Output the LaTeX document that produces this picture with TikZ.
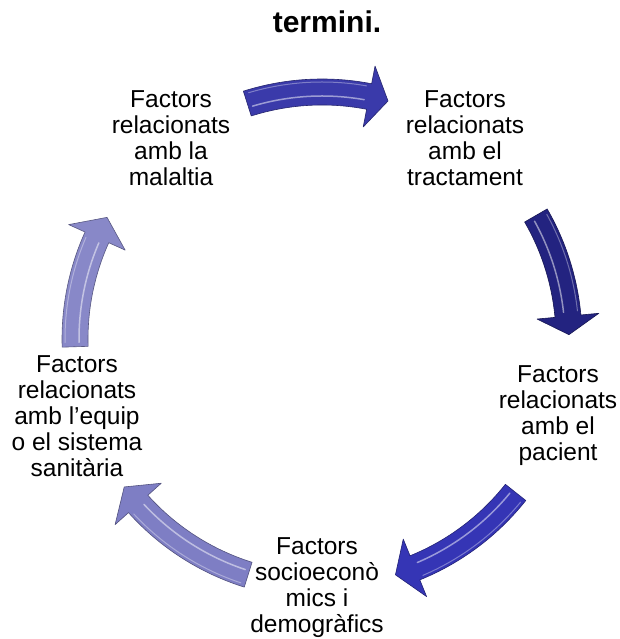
\documentclass[tikz,border=0pt]{standalone}
\usepackage{fontspec}
\setmainfont{Liberation Sans}
\definecolor{arrA}{HTML}{3A3AAA}
\definecolor{arrB}{HTML}{232380}
\definecolor{arrC}{HTML}{3535B5}
\definecolor{arrD}{HTML}{7E7EC4}
\definecolor{arrE}{HTML}{8888C8}
% #1 start angle, #2 head base angle, #3 tip angle, #4 colour
\newcommand\cycarrow[4]{%
  \filldraw[fill=#4, draw=#4!65!black, line width=0.6pt, line join=round]
    (#1:260pt) arc[start angle=#1, end angle=#2, radius=260pt]
    -- (#2:278pt) -- (#3:247pt) -- (#2:216pt) -- (#2:234pt)
    arc[start angle=#2, end angle=#1, radius=234pt] -- cycle;
  \draw[white, opacity=0.5, line width=1.5pt, line cap=round]
    ({#1-1}:243pt) arc[start angle={#1-1}, end angle={#2+1}, radius=243pt];
  \draw[white, opacity=0.35, line width=1pt, line cap=round]
    ({#1-1}:257pt) arc[start angle={#1-1}, end angle={#2+1}, radius=257pt];
}
\begin{document}
\begin{tikzpicture}[x=1pt,y=1pt,
  txt/.style={align=center, inner sep=0pt, font=\fontsize{24.5}{26}\selectfont}]
\useasboundingbox (0,0) rectangle (619,639);
\fill[white] (0,0) rectangle (619,639);
\node[anchor=base, inner sep=0pt, font=\fontsize{30}{34}\selectfont\bfseries] (title) at (327,606) {termini.};
\node[txt] (malaltia) at (171,497.7) {\strut Factors\\relacionats\\amb la\\malaltia\strut};
\node[txt] (tractament) at (465,497.7) {\strut Factors\\relacionats\\amb el\\tractament\strut};
\node[txt] (pacient) at (558,222.2) {\strut Factors\\relacionats\\amb el\\pacient\strut};
\node[txt] (socio) at (317,50.2) {\strut Factors\\socioeconò\\mics i\\demogràfics\strut};
\node[txt] (equip) at (77,219.2) {\strut Factors\\relacionats\\amb l’equip\\o el sistema\\sanitària\strut};
\begin{scope}[shift={(322,300)}]
  \cycarrow{107.6}{79}{74.5}{arrA}
  \cycarrow{30}{5.3}{1}{arrB}
  \cycarrow{-38.4}{-67.9}{-72.7}{arrC}
  \cycarrow{252.6}{221.9}{216.8}{arrD}
  \cycarrow{181.8}{155.7}{150.5}{arrE}
\end{scope}
\end{tikzpicture}
\end{document}
